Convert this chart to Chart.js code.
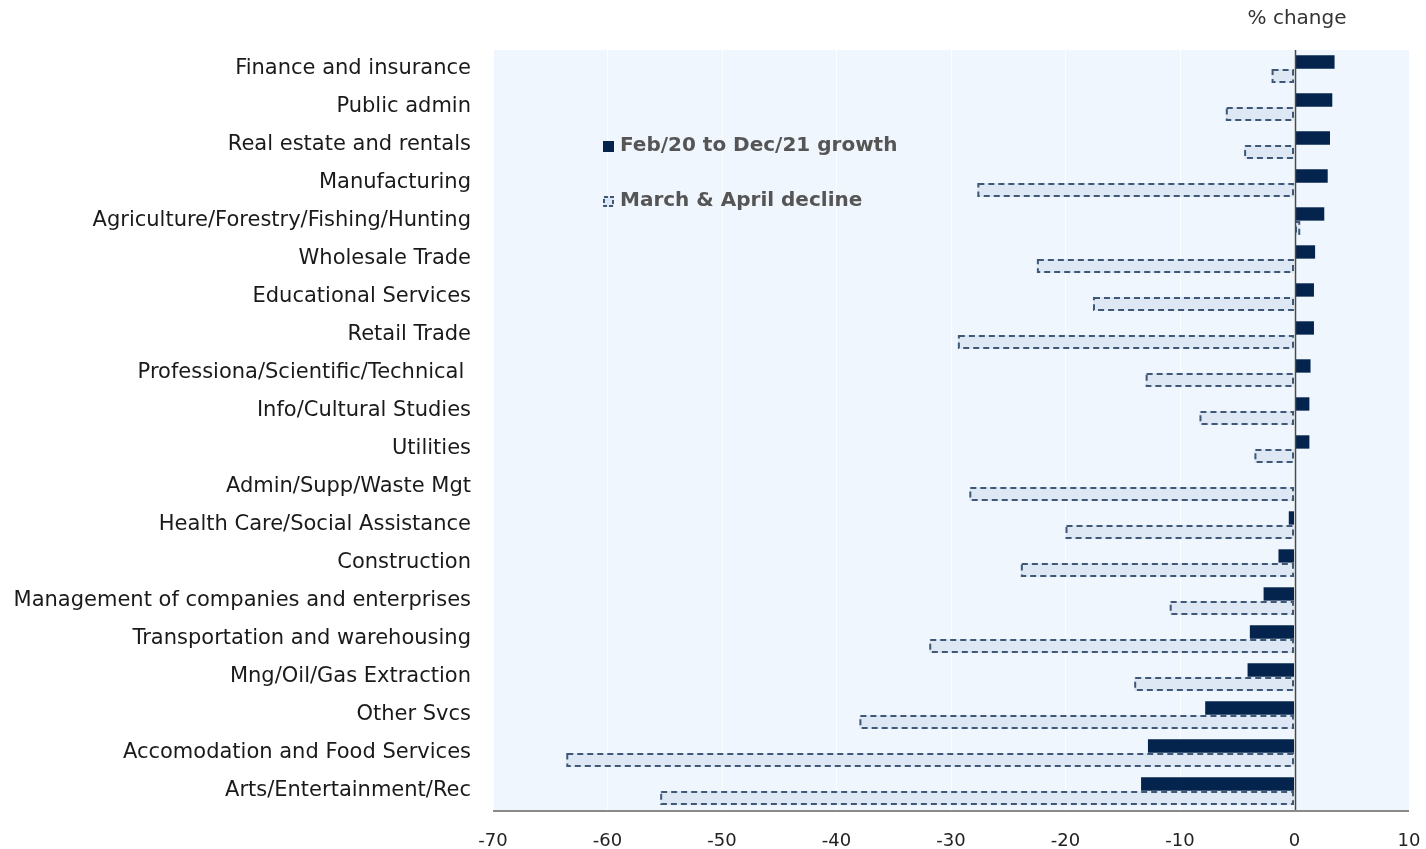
<!DOCTYPE html>
<html><head><meta charset="utf-8">
<script src="https://cdn.jsdelivr.net/npm/chart.js@4/dist/chart.umd.min.js"></script>
<style>html,body{margin:0;padding:0;background:#fff}#wrap{position:relative;width:1426px;height:849px}</style>
</head><body><div id="wrap"><canvas id="c" width="1426" height="849"></canvas></div>
<script>
const categories = ["Finance and insurance","Public admin","Real estate and rentals","Manufacturing","Agriculture/Forestry/Fishing/Hunting","Wholesale Trade","Educational Services","Retail Trade","Professiona/Scientific/Technical ","Info/Cultural Studies","Utilities","Admin/Supp/Waste Mgt","Health Care/Social Assistance","Construction","Management of companies and enterprises","Transportation and warehousing","Mng/Oil/Gas Extraction","Other Svcs","Accomodation and Food Services","Arts/Entertainment/Rec"];
const growth = [3.5,3.3,3.1,2.9,2.6,1.8,1.7,1.7,1.4,1.3,1.3,0,-0.5,-1.4,-2.7,-3.9,-4.1,-7.8,-12.8,-13.4];
const decline = [-2.0,-6.0,-4.4,-27.7,0.5,-22.5,-17.6,-29.4,-13.0,-8.3,-3.5,-28.4,-20.0,-23.9,-10.9,-31.9,-14.0,-38.0,-63.6,-55.4];
const seriesNames = ["Feb/20 to Dec/21 growth","March & April decline"];
const xMin = -70, xMax = 10, xStep = 10;

const NAVY = '#05244d', LIGHT = '#dde8f4', DASH = '#3f5878', BG = '#eff6fd';

const bgPlugin = {
  id:'bg',
  beforeDraw(chart){
    const {ctx, chartArea:a} = chart;
    ctx.save(); ctx.fillStyle = BG;
    ctx.fillRect(a.left, a.top, a.right-a.left, a.bottom-a.top);
    ctx.restore();
  }
};
const dashPlugin = {
  id:'dash',
  afterDatasetsDraw(chart){
    const ctx = chart.ctx;
    const meta = chart.getDatasetMeta(1);
    ctx.save();
    ctx.strokeStyle = DASH; ctx.lineWidth = 2; ctx.setLineDash([6,4]);
    meta.data.forEach(el => {
      const p = el.getProps(['x','y','base','height'], true);
      const l = Math.min(p.x, p.base), r = Math.max(p.x, p.base);
      const t = p.y - p.height/2, b = p.y + p.height/2;
      ctx.strokeRect(l+1, t+1, r-l-2, b-t-2);
    });
    const xs = chart.scales.x;
    const z = Math.round(xs.getPixelForValue(0)) + 0.5;
    ctx.setLineDash([]); ctx.strokeStyle = '#4a4a4a'; ctx.lineWidth = 1.5;
    ctx.beginPath(); ctx.moveTo(z, chart.chartArea.top); ctx.lineTo(z, chart.chartArea.bottom); ctx.stroke();
    ctx.strokeStyle = '#8a8a8a'; ctx.lineWidth = 2;
    ctx.beginPath(); ctx.moveTo(chart.chartArea.left, chart.chartArea.bottom+1); ctx.lineTo(chart.chartArea.right, chart.chartArea.bottom+1); ctx.stroke();
    ctx.restore();
  }
};
const legendPlugin = {
  id:'customLegend',
  afterDraw(chart){
    const ctx = chart.ctx, a = chart.chartArea;
    const x0 = a.left + 110, y1 = a.top + 96, y2 = a.top + 151;
    ctx.save();
    ctx.font = 'bold 20px "DejaVu Sans"';
    ctx.fillStyle = '#555'; ctx.textBaseline = 'middle';
    ctx.fillText(seriesNames[0], x0 + 17, y1);
    ctx.fillText(seriesNames[1], x0 + 17, y2);
    ctx.fillStyle = NAVY; ctx.fillRect(x0, y1-5, 11, 11);
    ctx.fillStyle = LIGHT; ctx.fillRect(x0, y2-5, 11, 11);
    ctx.strokeStyle = DASH; ctx.lineWidth = 2; ctx.setLineDash([4,2]);
    ctx.strokeRect(x0+1, y2-4, 9, 9);
    ctx.setLineDash([]);
    ctx.font = '20px "DejaVu Sans"'; ctx.fillStyle = '#333'; ctx.textAlign = 'center';
    ctx.fillText('% change', 1297, 19);
    ctx.restore();
  }
};

new Chart(document.getElementById('c'), {
  type:'bar',
  data:{
    labels: categories,
    datasets:[
      {label:seriesNames[0], data:growth, backgroundColor:NAVY, borderWidth:0, categoryPercentage:0.74, barPercentage:0.95},
      {label:seriesNames[1], data:decline, backgroundColor:LIGHT, borderWidth:0, categoryPercentage:0.74, barPercentage:1.0}
    ]
  },
  options:{
    indexAxis:'y', responsive:false, animation:false,
    layout:{padding:{top:50,right:17,left:0,bottom:0}},
    plugins:{legend:{display:false}, tooltip:{enabled:false}},
    scales:{
      x:{
        min:xMin, max:xMax,
        ticks:{stepSize:xStep, color:'#222', font:{family:'DejaVu Sans', size:18}, padding:21},
        grid:{color:'rgba(255,255,255,0.75)', drawTicks:false, lineWidth:1},
        border:{display:false},
        afterFit(s){ s.height = 39; s.paddingLeft = 0; s.paddingRight = 0; }
      },
      y:{
        ticks:{color:'#1a1a1a', font:{family:'DejaVu Sans', size:21}, padding:22, autoSkip:false},
        grid:{display:false, drawTicks:false},
        border:{display:false},
        afterFit(s){ s.width = 493; s.paddingTop = 0; s.paddingBottom = 0; }
      }
    }
  },
  plugins:[bgPlugin, dashPlugin, legendPlugin]
});
</script></body></html>
